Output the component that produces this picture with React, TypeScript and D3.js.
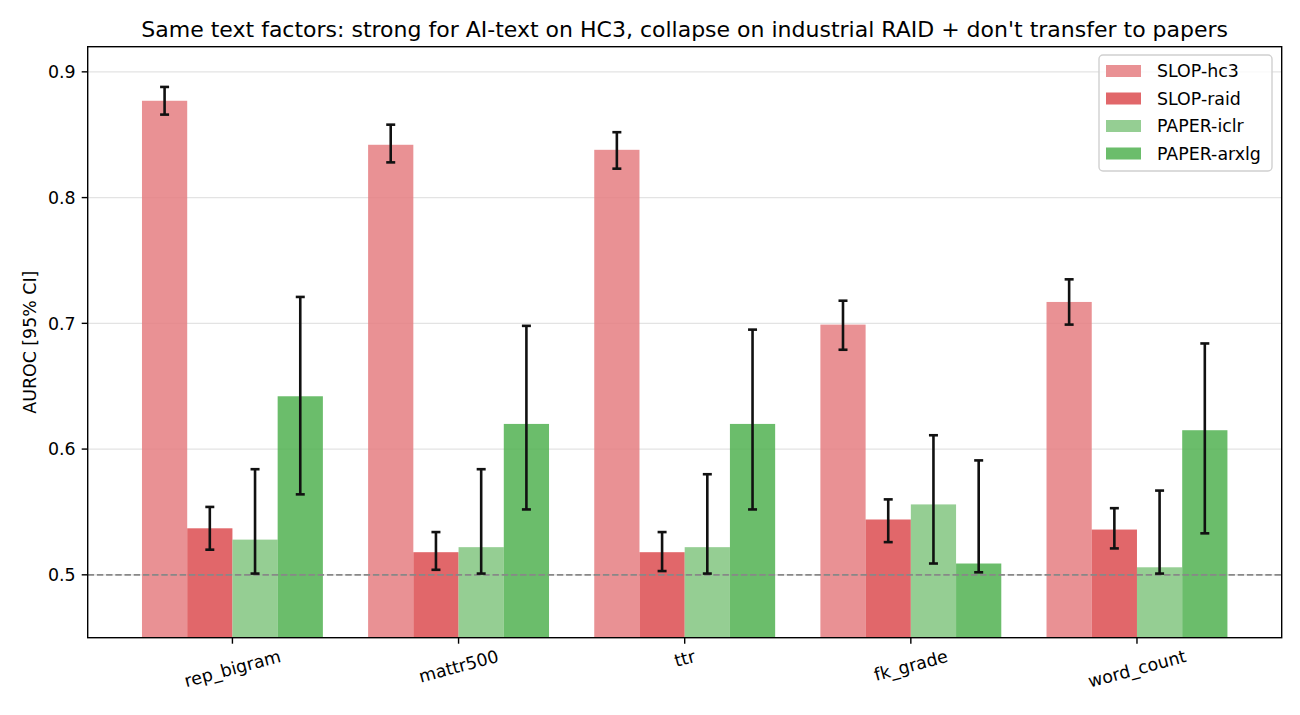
import React, { useEffect, useRef } from 'react'
import * as d3 from 'd3'

const categories = ['rep_bigram', 'mattr500', 'ttr', 'fk_grade', 'word_count']
const seriesNames = ['SLOP-hc3', 'SLOP-raid', 'PAPER-iclr', 'PAPER-arxlg']
const seriesColors = ['#e57e81', '#dc4c50', '#83c580', '#51b151']

const hc3 = [0.877, 0.842, 0.838, 0.699, 0.717]
const hc3Lo = [0.866, 0.828, 0.823, 0.679, 0.699]
const hc3Hi = [0.888, 0.858, 0.852, 0.718, 0.735]

const raid = [0.537, 0.518, 0.518, 0.544, 0.536]
const raidLo = [0.52, 0.504, 0.503, 0.526, 0.521]
const raidHi = [0.554, 0.534, 0.534, 0.56, 0.553]

const iclr = [0.528, 0.522, 0.522, 0.556, 0.506]
const iclrLo = [0.501, 0.501, 0.501, 0.509, 0.501]
const iclrHi = [0.584, 0.584, 0.58, 0.611, 0.567]

const arxlg = [0.642, 0.62, 0.62, 0.509, 0.615]
const arxlgLo = [0.564, 0.552, 0.552, 0.502, 0.533]
const arxlgHi = [0.721, 0.698, 0.695, 0.591, 0.684]

const yTicks = [0.5, 0.6, 0.7, 0.8, 0.9]

const W = 1300
const H = 715
const FONT = 'DejaVu Sans, sans-serif'

function App() {
  const ref = useRef(null)

  useEffect(() => {
    const svg = d3.select(ref.current)
    svg.selectAll('*').remove()

    const left = 87.7
    const right = 1281.7
    const top = 46.7
    const bottom = 637.7

    const x = d3.scaleBand().domain(categories).range([left, right]).paddingInner(0.2).paddingOuter(0.24)
    const xs = d3.scaleBand().domain(seriesNames).range([0, x.bandwidth()])
    const y = d3.scaleLinear().domain([0.45, 0.92]).range([bottom, top])

    const vals = [hc3, raid, iclr, arxlg]
    const los = [hc3Lo, raidLo, iclrLo, arxlgLo]
    const his = [hc3Hi, raidHi, iclrHi, arxlgHi]

    const rows = []
    seriesNames.forEach((s, si) => {
      categories.forEach((c, ci) => {
        rows.push({ s, si, c, v: vals[si][ci], lo: los[si][ci], hi: his[si][ci] })
      })
    })

    // grid
    svg
      .append('g')
      .selectAll('line')
      .data(yTicks)
      .enter()
      .append('line')
      .attr('x1', left)
      .attr('x2', right)
      .attr('y1', d => y(d))
      .attr('y2', d => y(d))
      .attr('stroke', '#e3e3e3')
      .attr('stroke-width', 1.4)

    // bars
    svg
      .append('g')
      .selectAll('rect')
      .data(rows)
      .enter()
      .append('rect')
      .attr('x', d => x(d.c) + xs(d.s))
      .attr('width', xs.bandwidth())
      .attr('y', d => y(d.v))
      .attr('height', d => bottom - y(d.v))
      .attr('fill', d => seriesColors[d.si])
      .attr('fill-opacity', 0.85)

    // reference line
    svg
      .append('line')
      .attr('x1', left)
      .attr('x2', right)
      .attr('y1', y(0.5))
      .attr('y2', y(0.5))
      .attr('stroke', '#888888')
      .attr('stroke-width', 1.7)
      .attr('stroke-dasharray', '6.4,2.8')

    // error bars
    const eb = svg.append('g').attr('stroke', '#111111').attr('stroke-width', 2.6)
    rows.forEach(d => {
      const cx = x(d.c) + xs(d.s) + xs.bandwidth() / 2
      eb.append('line').attr('x1', cx).attr('x2', cx).attr('y1', y(d.lo)).attr('y2', y(d.hi))
      eb.append('line').attr('x1', cx - 4.5).attr('x2', cx + 4.5).attr('y1', y(d.lo)).attr('y2', y(d.lo))
      eb.append('line').attr('x1', cx - 4.5).attr('x2', cx + 4.5).attr('y1', y(d.hi)).attr('y2', y(d.hi))
    })

    // frame
    svg
      .append('rect')
      .attr('x', left)
      .attr('y', top)
      .attr('width', right - left)
      .attr('height', bottom - top)
      .attr('fill', 'none')
      .attr('stroke', '#000')
      .attr('stroke-width', 1.4)

    // y axis
    const ya = svg.append('g')
    yTicks.forEach(t => {
      ya.append('line').attr('x1', left - 6).attr('x2', left).attr('y1', y(t)).attr('y2', y(t)).attr('stroke', '#000').attr('stroke-width', 1.4)
      ya.append('text')
        .attr('x', left - 12)
        .attr('y', y(t))
        .attr('dy', '0.36em')
        .attr('text-anchor', 'end')
        .attr('font-family', FONT)
        .attr('font-size', 17.4)
        .text(d3.format('.1f')(t))
    })

    svg
      .append('text')
      .attr('transform', `translate(30, ${(top + bottom) / 2}) rotate(-90)`)
      .attr('text-anchor', 'middle')
      .attr('dy', '0.36em')
      .attr('font-family', FONT)
      .attr('font-size', 17.4)
      .text('AUROC [95% CI]')

    // x axis
    const xa = svg.append('g')
    const ang = (15 * Math.PI) / 180
    categories.forEach(c => {
      const cx = x(c) + x.bandwidth() / 2
      xa.append('line').attr('x1', cx).attr('x2', cx).attr('y1', bottom).attr('y2', bottom + 6).attr('stroke', '#000').attr('stroke-width', 1.4)
      const t = xa
        .append('text')
        .attr('text-anchor', 'middle')
        .attr('dy', '0.36em')
        .attr('font-family', FONT)
        .attr('font-size', 17.4)
        .text(c)
      const w = t.node().getComputedTextLength()
      const h = 17.4 * 1.17
      const ty = bottom + 8 + (w * Math.sin(ang) + h * Math.cos(ang)) / 2
      t.attr('transform', `translate(${cx}, ${ty}) rotate(-15)`)
    })

    // title
    svg
      .append('text')
      .attr('x', (left + right) / 2)
      .attr('y', 36.7)
      .attr('text-anchor', 'middle')
      .attr('font-family', FONT)
      .attr('font-size', 22)
      .text("Same text factors: strong for AI-text on HC3, collapse on industrial RAID + don't transfer to papers")

    // legend
    const lg = svg.append('g')
    lg.append('rect')
      .attr('x', 1099)
      .attr('y', 55)
      .attr('width', 173)
      .attr('height', 116)
      .attr('rx', 4)
      .attr('fill', '#fff')
      .attr('fill-opacity', 0.8)
      .attr('stroke', '#d0d0d0')
      .attr('stroke-width', 1.4)
    seriesNames.forEach((s, i) => {
      const cy = 71 + i * 27.5
      lg.append('rect')
        .attr('x', 1106)
        .attr('y', cy - 6)
        .attr('width', 35)
        .attr('height', 12)
        .attr('fill', seriesColors[i])
        .attr('fill-opacity', 0.85)
      lg.append('text')
        .attr('x', 1157)
        .attr('y', cy)
        .attr('dy', '0.36em')
        .attr('font-family', FONT)
        .attr('font-size', 17.4)
        .text(s)
    })
  }, [])

  return (
    <svg
      ref={ref}
      width={W}
      height={H}
      style={{ position: 'absolute', left: 0, top: 0, background: '#fff' }}
    />
  )
}

export default App
